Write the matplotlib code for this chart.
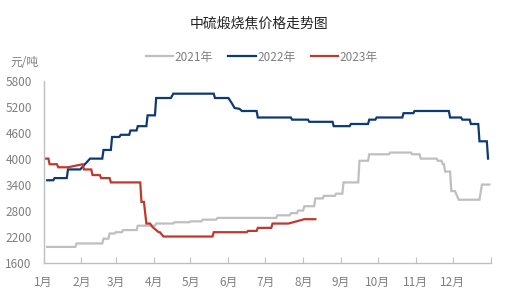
import matplotlib
matplotlib.use("Agg")
import matplotlib.pyplot as plt
import pandas as pd

plt.rcParams['font.family'] = ['Noto Sans CJK SC', 'DejaVu Sans']

title = "中硫煅烧焦价格走势图"
unit = "元/吨"
month_labels = ["1月", "2月", "3月", "4月", "5月", "6月", "7月", "8月", "9月", "10月", "11月", "12月"]
yticks = [1600, 2200, 2800, 3400, 4000, 4600, 5200, 5800]

# 2021 series (month-day, price)
d2021 = ["01-04", "01-27", "01-28", "02-18", "02-19", "02-23", "02-24", "02-28", "03-01", "03-06",
         "03-07", "03-18", "03-19", "04-02", "04-03", "04-17", "04-18", "04-30", "05-01", "05-10",
         "05-11", "05-22", "05-23", "07-10", "07-11", "07-21", "07-22", "07-27", "07-28", "08-01",
         "08-02", "08-10", "08-11", "08-17", "08-18", "08-27", "08-28", "09-02", "09-03", "09-15",
         "09-16", "09-23", "09-24", "10-10", "10-11", "10-28", "10-29", "11-04", "11-05", "11-18",
         "11-19", "11-22", "11-23", "11-24", "11-25", "11-29", "11-30", "12-03", "12-06", "12-23",
         "12-25", "12-31"]
v2021 = [1960, 1960, 2040, 2040, 2150, 2150, 2270, 2270, 2300, 2300,
         2350, 2350, 2450, 2450, 2500, 2500, 2530, 2530, 2550, 2550,
         2590, 2590, 2630, 2630, 2690, 2690, 2740, 2740, 2800, 2800,
         2900, 2900, 3080, 3080, 3140, 3140, 3190, 3190, 3450, 3450,
         3950, 3950, 4100, 4100, 4140, 4140, 4100, 4100, 4000, 4000,
         3950, 3950, 3870, 3870, 3700, 3700, 3250, 3250, 3050, 3050,
         3400, 3400]

# 2022 series
d2022 = ["01-04", "01-09", "01-10", "01-20", "01-21", "01-31", "02-08", "02-18", "02-19", "02-25",
         "02-26", "03-04", "03-05", "03-12", "03-13", "03-18", "03-19", "03-26", "03-27", "04-02",
         "04-03", "04-15", "04-17", "05-20", "05-21", "06-01", "06-04", "06-06", "06-10", "06-12",
         "06-24", "06-25", "07-22", "07-23", "08-05", "08-06", "08-25", "08-26", "09-08", "09-09",
         "09-23", "09-24", "09-29", "09-30", "10-21", "10-22", "10-30", "10-31", "11-28", "11-29",
         "12-08", "12-09", "12-15", "12-16", "12-22", "12-23", "12-29", "12-30"]
v2022 = [3500, 3500, 3550, 3550, 3750, 3750, 4000, 4000, 4200, 4200,
         4500, 4500, 4550, 4550, 4650, 4650, 4750, 4750, 5000, 5000,
         5400, 5400, 5500, 5500, 5400, 5400, 5270, 5170, 5150, 5100,
         5100, 4950, 4950, 4900, 4900, 4850, 4850, 4750, 4750, 4800,
         4800, 4900, 4900, 4950, 4950, 5050, 5050, 5100, 5100, 4950,
         4950, 4900, 4900, 4800, 4800, 4400, 4400, 4000]

# 2023 series
d2023 = ["01-03", "01-05", "01-06", "01-12", "01-13", "01-21", "02-02", "02-03", "02-09", "02-10",
         "02-16", "02-17", "02-24", "02-25", "03-21", "03-22", "03-24", "03-26", "03-29", "03-31",
         "04-05", "04-06", "04-09", "05-19", "05-20", "06-16", "06-17", "06-24", "06-25", "07-06",
         "07-07", "07-20", "08-02", "08-11"]
v2023 = [4000, 4000, 3870, 3870, 3800, 3800, 3870, 3750, 3750, 3620,
         3620, 3550, 3550, 3450, 3450, 3000, 3000, 2500, 2500, 2420,
         2300, 2300, 2200, 2200, 2300, 2300, 2330, 2330, 2400, 2400,
         2500, 2500, 2600, 2600]

series = [("2021年", d2021, v2021, "#bfbfbf"),
          ("2022年", d2022, v2022, "#0e3a74"),
          ("2023年", d2023, v2023, "#c0392b")]


def to_day(md):
    return (pd.to_datetime(["2022-" + m for m in md]).dayofyear - 1).to_numpy()


month_starts = to_day([f"{m:02d}-01" for m in range(1, 13)])

fig = plt.figure(figsize=(5.22, 2.95), dpi=100)
ax = fig.add_axes([43.5 / 522, (295 - 262.5) / 295, 447 / 522, (262.5 - 80.7) / 295])

for name, d, v, c in series:
    ax.plot(to_day(d), v, color=c, lw=1.6, label=name, solid_joinstyle="miter")

ax.set_xlim(0, 365)
ax.set_ylim(1600, 5800)
ax.set_yticks(yticks)
ax.set_xticks(list(month_starts) + [365])
ax.set_xticklabels(month_labels + [""])

for s in ["top", "right"]:
    ax.spines[s].set_visible(False)
for s in ["left", "bottom"]:
    ax.spines[s].set_color("#bfbfbf")
    ax.spines[s].set_linewidth(1.0)

ax.tick_params(axis="x", direction="in", length=4, color="#bfbfbf", labelsize=8.5,
               labelcolor="#7f7f7f", pad=10)
ax.tick_params(axis="y", length=0, labelsize=8.5, labelcolor="#7f7f7f", pad=8.5)

fig.text(0.497, 1 - 23 / 295, title, ha="center", va="center", fontsize=10, color="#222222")
fig.text(10 / 522, 1 - 62 / 295, unit, ha="left", va="center", fontsize=8.5, color="#7f7f7f")

leg = fig.legend(loc="center", bbox_to_anchor=(262 / 522, 1 - 57 / 295), ncol=3, frameon=False,
                 fontsize=8.5, handlelength=2.3, handletextpad=0.15, columnspacing=1.3)
for t in leg.get_texts():
    t.set_color("#7f7f7f")

fig.savefig("out.png", dpi=100)
